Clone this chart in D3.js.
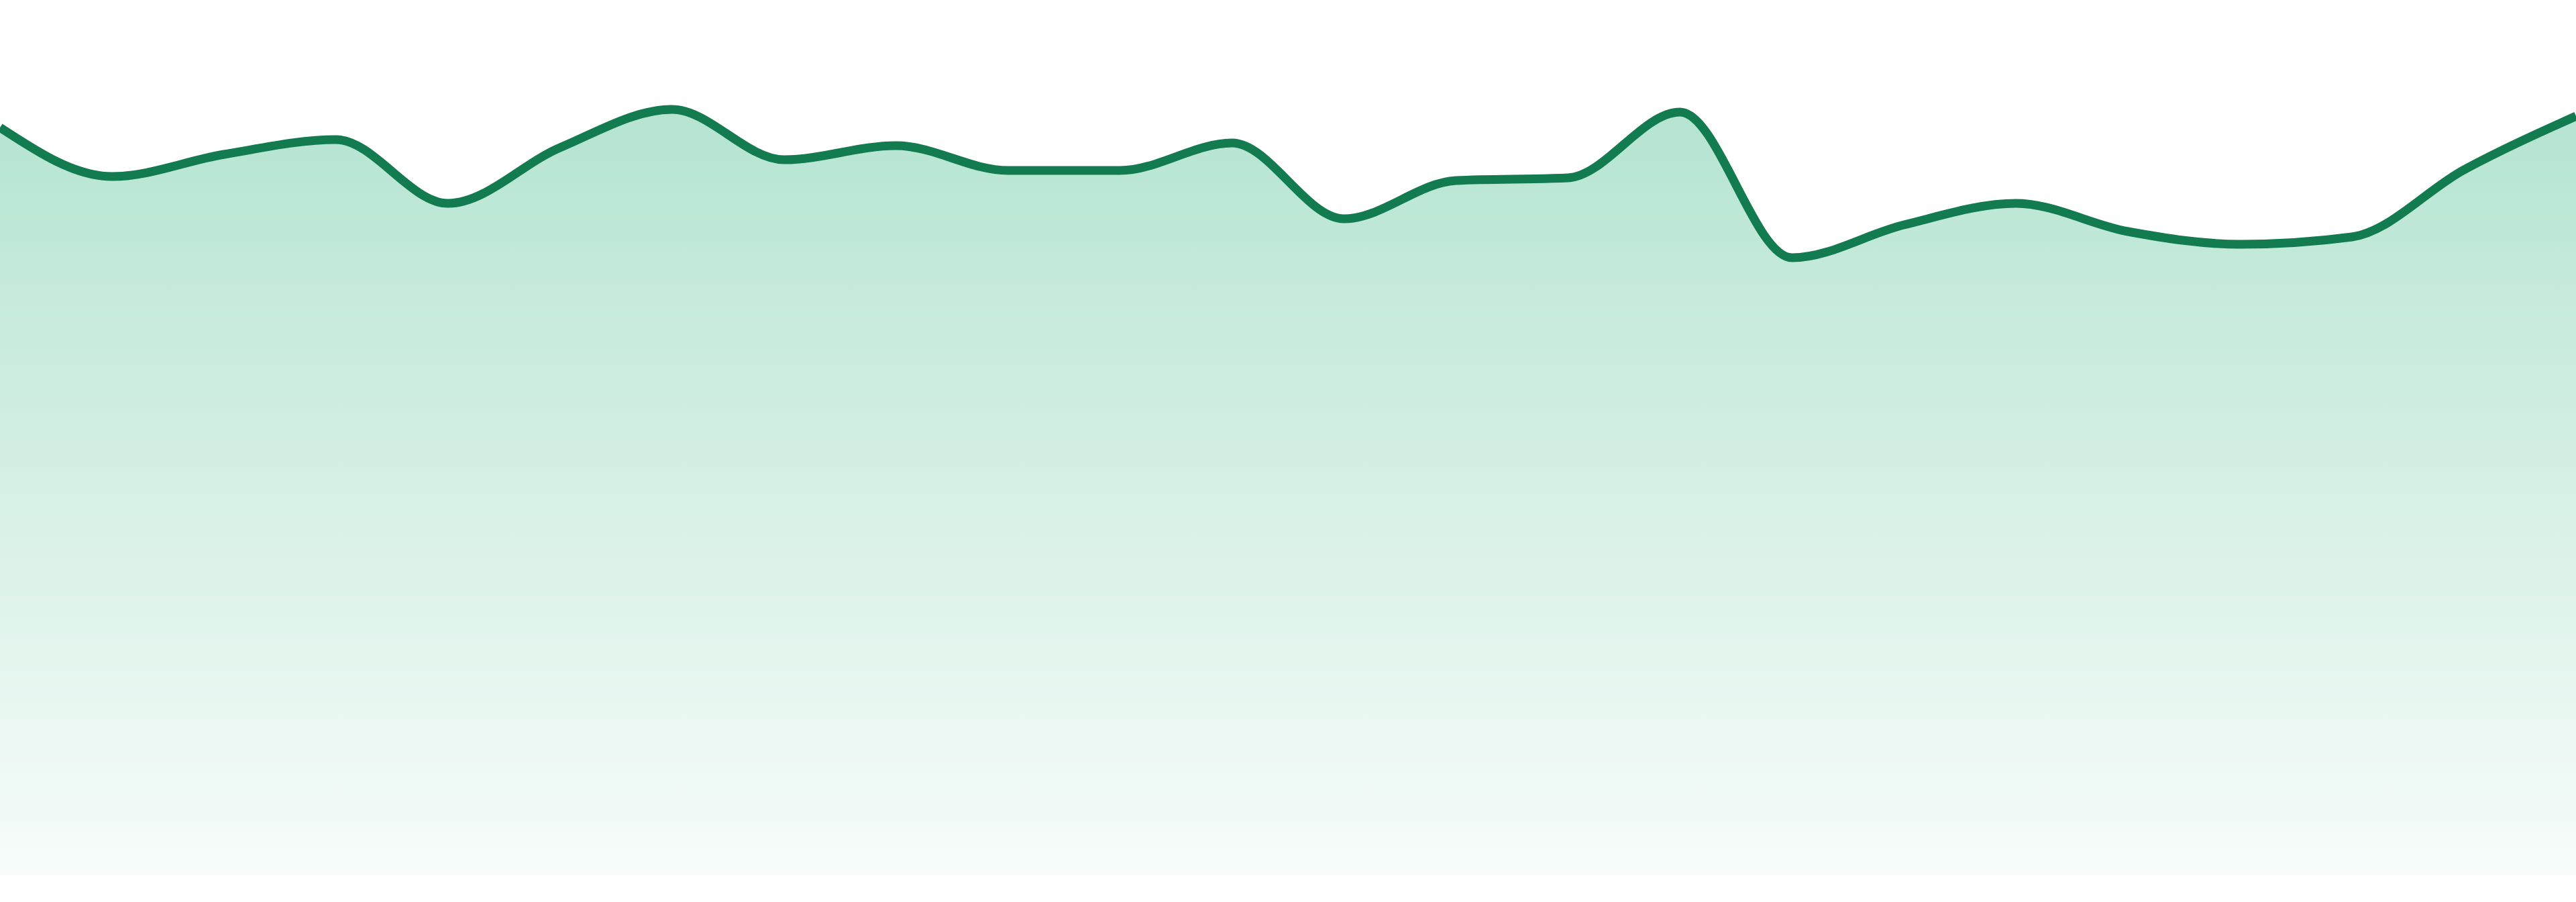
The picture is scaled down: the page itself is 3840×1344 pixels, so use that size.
<!DOCTYPE html>
<html>
<head>
<meta charset="utf-8">
<script src="https://cdn.jsdelivr.net/npm/d3@7"></script>
<style>
  html, body { margin: 0; padding: 0; background: #ffffff; overflow: hidden; }
  svg { display: block; }
</style>
</head>
<body>
<div id="chart"></div>
<script>
// data (24 evenly spaced points)
var indexes = d3.range(24);
var values = [111.4, 104.1, 107.4, 109.6, 100.1, 108.4, 114.1, 106.6, 108.7, 105.0, 105.0, 109.1,
              97.8, 103.5, 103.9, 113.7, 92.0, 96.9, 100.1, 95.9, 94.0, 95.1, 105.1, 113.1];
var yDomain = [0, 130.4];

function init(){
    var w = 3840;
    var h = 1344;
    var bottom = 1304;

    var svg = d3.select("#chart")
                .append("svg")
                .attr("width", w)
                .attr("height", h);

    var x = d3.scaleLinear()
              .domain([0, indexes.length - 1])
              .range([0, w]);

    var y = d3.scaleLinear()
              .domain(yDomain)
              .range([bottom, 0]);

    // vertical fade under the line
    var grad = svg.append("defs")
                  .append("linearGradient")
                  .attr("id", "fade")
                  .attr("gradientUnits", "userSpaceOnUse")
                  .attr("x1", 0).attr("x2", 0)
                  .attr("y1", y(d3.max(values))).attr("y2", bottom);
    grad.append("stop").attr("offset", "0%").attr("stop-color", "#b5e4d1");
    grad.append("stop").attr("offset", "100%").attr("stop-color", "#f7fcfa");

    var area = d3.area()
                 .x(function(d, i){ return x(indexes[i]); })
                 .y0(bottom)
                 .y1(function(d){ return y(d); })
                 .curve(d3.curveMonotoneX);

    var line = d3.line()
                 .x(function(d, i){ return x(indexes[i]); })
                 .y(function(d){ return y(d); })
                 .curve(d3.curveMonotoneX);

    svg.append("path")
       .datum(values)
       .attr("d", area)
       .attr("fill", "url(#fade)");

    svg.append("path")
       .datum(values)
       .attr("d", line)
       .attr("fill", "none")
       .attr("stroke", "#137b50")
       .attr("stroke-width", 13)
       .attr("stroke-linejoin", "round");
}
window.onload = init;
</script>
</body>
</html>
